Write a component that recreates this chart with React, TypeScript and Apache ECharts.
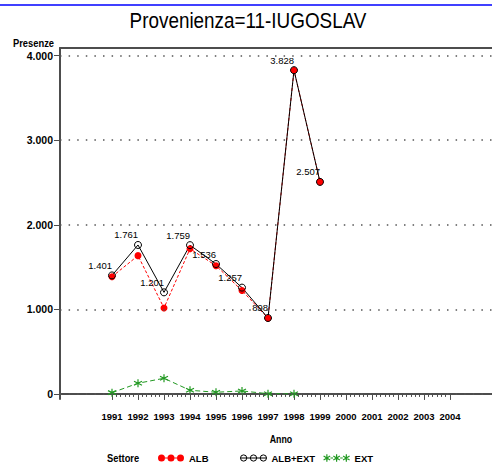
import React, { useEffect, useRef } from "react";
import * as echarts from "echarts";

const years = [1991, 1992, 1993, 1994, 1995, 1996, 1997, 1998, 1999];
const albValues = [1386, 1635, 1016, 1716, 1516, 1222, 895, 3826, 2507];
const albExtValues = [1401, 1761, 1201, 1759, 1536, 1257, 898, 3828, 2507];
const extYears = [1991, 1992, 1993, 1994, 1995, 1996, 1997, 1998];
const extValues = [15, 126, 185, 43, 20, 35, 3, 2];
const xTickYears = [1991, 1992, 1993, 1994, 1995, 1996, 1997, 1998, 1999, 2000, 2001, 2002, 2003, 2004];
const yTicks = [0, 1000, 2000, 3000, 4000];
const titleText = "Provenienza=11-IUGOSLAV";
const seriesNames = ["ALB", "ALB+EXT", "EXT"];

const fmt = (v: number) => String(v).replace(/\B(?=(\d{3})+(?!\d))/g, ".");

const SANS = "'Liberation Sans', Arial, sans-serif";
const AXIS_COLOR = "#4d4d4d";
const GREEN = "#229922";

const circ = (cx: number, cy: number, r: number) =>
  `M${cx - r},${cy}a${r},${r} 0 1,0 ${2 * r},0a${r},${r} 0 1,0 ${-2 * r},0z`;
const star = (cx: number, cy: number) =>
  `M${cx},${cy - 3.6}L${cx},${cy + 3.6}M${cx - 3.2},${cy - 1.9}L${cx + 3.2},${cy + 1.9}M${cx - 3.2},${cy + 1.9}L${cx + 3.2},${cy - 1.9}`;

const albIcon =
  "path://" + circ(3.5, 4, 3.5) + circ(13, 4, 3.5) + circ(22.5, 4, 3.5) + "M7,3.5h2.5v1h-2.5zM16.5,3.5h2.5v1h-2.5z";
const albExtIcon =
  "path://" + circ(3.5, 4, 3) + circ(13, 4, 3) + circ(22.5, 4, 3) + "M0.5,4h25";
const extIcon =
  "path://" + star(3.5, 4) + star(13, 4) + star(22.5, 4) + "M7,4h2.5M16.5,4h2.5";
const starSymbol = "path://M5,0L5,10M0.7,2.5L9.3,7.5M0.7,7.5L9.3,2.5";

function measure(text: string, font: string): number {
  const c = document.createElement("canvas").getContext("2d");
  if (!c) return text.length * 10;
  c.font = font;
  return c.measureText(text).width;
}

export default function App() {
  const ref = useRef<HTMLDivElement>(null);
  useEffect(() => {
    if (!ref.current) return;
    const chart = echarts.init(ref.current, null, { renderer: "svg" });
    const xMin = 1989;
    const xMax = 1989 + 432 / 26;
    const minorX: number[] = [];
    for (let i = 0; i < xTickYears.length - 1; i++) {
      for (let k = 1; k < 6; k++) minorX.push(xTickYears[i] + k / 6);
    }
    const minorY: number[] = [];
    for (let v = 0; v <= 4000; v += 100) if (v % 1000 !== 0) minorY.push(v);

    const titleW = measure(titleText, "22px 'Liberation Sans'");
    const titleScale = 237 / titleW;

    const legendBase = {
      orient: "horizontal" as const,
      top: 453,
      padding: 0,
      itemWidth: 26,
      itemHeight: 8,
      itemGap: 5,
      textStyle: { fontFamily: SANS, fontWeight: "bold" as const, fontSize: 9.5, color: "#000" },
      selectedMode: false,
    };

    const labelText = (text: string, x: number, y: number, size: number, align: string, sx: number) => ({
      type: "text",
      x,
      y,
      scaleX: sx,
      style: { text, fontFamily: SANS, fontWeight: "bold", fontSize: size, fill: "#000", align, verticalAlign: "middle" },
    });

    chart.setOption({
      animation: false,
      backgroundColor: "#fff",
      grid: { left: 60, right: 0, top: 48, bottom: 69 },
      xAxis: [
        {
          type: "value",
          min: xMin,
          max: xMax,
          position: "bottom",
          axisLine: { show: true, lineStyle: { color: AXIS_COLOR, width: 2 } },
          axisTick: { show: true, customValues: xTickYears, length: 6, lineStyle: { color: AXIS_COLOR, width: 1 } },
          axisLabel: {
            show: true,
            customValues: xTickYears,
            showMinLabel: true,
            showMaxLabel: true,
            hideOverlap: false,
            formatter: (v: number) => String(v),
            margin: 12,
            fontFamily: SANS,
            fontWeight: "bold",
            fontSize: 9.5,
            color: "#000",
          },
          splitLine: { show: false },
        },
        {
          type: "value",
          min: xMin,
          max: xMax,
          position: "bottom",
          axisLine: { show: false },
          axisTick: { show: true, customValues: minorX, length: 3, lineStyle: { color: AXIS_COLOR, width: 1 } },
          axisLabel: { show: false },
          splitLine: { show: false },
        },
        {
          type: "value",
          min: xMin,
          max: xMax,
          position: "top",
          axisLine: { show: true, lineStyle: { color: AXIS_COLOR, width: 2 } },
          axisTick: { show: false },
          axisLabel: { show: false },
          splitLine: { show: false },
        },
      ],
      yAxis: [
        {
          type: "value",
          min: -60,
          max: 4090,
          axisLine: { show: true, lineStyle: { color: AXIS_COLOR, width: 2 } },
          axisTick: { show: true, customValues: yTicks, length: 6, lineStyle: { color: AXIS_COLOR, width: 1 } },
          axisLabel: {
            show: true,
            customValues: yTicks,
            showMinLabel: true,
            showMaxLabel: true,
            formatter: (v: number) => fmt(v),
            margin: 7,
            fontFamily: SANS,
            fontWeight: "bold",
            fontSize: 10.5,
            color: "#000",
          },
          splitLine: { show: false },
        },
        {
          type: "value",
          min: -60,
          max: 4090,
          axisLine: { show: false },
          axisTick: { show: true, customValues: minorY, length: 3, lineStyle: { color: AXIS_COLOR, width: 1 } },
          axisLabel: { show: false },
          splitLine: { show: false },
        },
      ],
      legend: [
        { ...legendBase, left: 158, data: [{ name: seriesNames[0], icon: albIcon, itemStyle: { color: "#ff0000", borderWidth: 0 } }] },
        { ...legendBase, left: 240, data: [{ name: seriesNames[1], icon: albExtIcon, itemStyle: { color: "#fff", borderColor: "#000", borderWidth: 1 } }] },
        { ...legendBase, left: 323, data: [{ name: seriesNames[2], icon: extIcon, itemStyle: { color: GREEN, borderColor: GREEN, borderWidth: 1.2 } }] },
      ],
      graphic: [
        { type: "line", shape: { x1: 0, y1: 5, x2: 492, y2: 5 }, style: { stroke: "#0000ff", lineWidth: 1.5 } },
        {
          type: "text",
          x: 248,
          y: 20,
          scaleX: titleScale,
          style: { text: titleText, fontFamily: SANS, fontSize: 22, fill: "#000", align: "center", verticalAlign: "middle" },
        },
        labelText("Presenze", 54, 43, 11, "right", 0.85),
        labelText("Anno", 281, 439, 11, "center", 0.8),
        labelText("Settore", 107, 458, 11, "left", 0.85),
      ],
      series: [
        {
          name: seriesNames[2],
          type: "line",
          data: extYears.map((y, i) => [y, extValues[i]]),
          symbol: starSymbol,
          symbolSize: 8,
          itemStyle: { color: GREEN, borderColor: GREEN, borderWidth: 1.2 },
          lineStyle: { color: GREEN, width: 1, type: [5, 3] },
          markLine: {
            silent: true,
            symbol: ["none", "none"],
            label: { show: false },
            lineStyle: { color: "#555", width: 1.5, type: [1.5, 7.1] },
            data: yTicks.map((v) => ({ yAxis: v })),
          },
        },
        {
          name: seriesNames[0],
          type: "line",
          data: years.map((y, i) => [y, albValues[i]]),
          symbol: "circle",
          symbolSize: 7,
          itemStyle: { color: "#ff0000" },
          lineStyle: { color: "#ff0000", width: 1, type: [3, 2] },
        },
        {
          name: seriesNames[1],
          type: "line",
          data: years.map((y, i) => [y, albExtValues[i]]),
          symbol: "circle",
          symbolSize: 7,
          itemStyle: { color: "rgba(0,0,0,0)", borderColor: "#000", borderWidth: 1 },
          lineStyle: { color: "#000", width: 1 },
          label: {
            show: true,
            position: "top",
            align: "right",
            distance: 1,
            formatter: (p: any) => fmt(p.value[1]),
            fontFamily: SANS,
            fontSize: 9.5,
            color: "#000",
          },
        },
      ],
    });
    return () => chart.dispose();
  }, []);
  return <div ref={ref} style={{ position: "fixed", left: 0, top: 0, width: 492, height: 468 }} />;
}
